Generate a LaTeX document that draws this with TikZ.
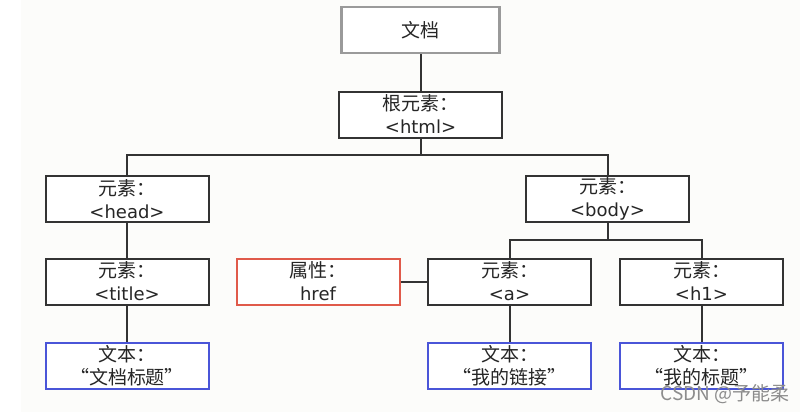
\documentclass[tikz,border=0pt]{standalone}
\usepackage{fontspec}
\setmainfont{DejaVu Sans}
\newfontfamily\cjk{Noto Sans CJK SC}
\definecolor{bgpaper}{HTML}{FCFCFA}
\definecolor{boxline}{HTML}{333333}
\definecolor{docline}{HTML}{9A9A9A}
\definecolor{attrline}{HTML}{E05A4A}
\definecolor{textline}{HTML}{4A55D8}
\newcommand{\zh}[1]{{\cjk\fontsize{9.5}{11}\selectfont #1}}
\tikzset{
  elem/.style={draw=boxline, line width=1pt, fill=white, minimum width=81.5pt,
    minimum height=23pt, align=center, inner sep=0pt, text=black!85,
    font=\fontsize{9}{11.5}\selectfont},
  docbox/.style={elem, draw=docline, line width=1.4pt, minimum width=79pt},
  attrbox/.style={elem, draw=attrline},
  textbox/.style={elem, draw=textline},
  link/.style={draw=boxline, line width=1pt}
}
\begin{document}
\begin{tikzpicture}[x=0.5pt, y=-0.5pt]
    \useasboundingbox (0,0) rectangle (800,412);
    \fill[white] (0,0) rectangle (800,412);
    \fill[bgpaper] (21,0) rectangle (800,412);

    % Document and root
    \node[docbox] (doc) at (420.5, 30) {\zh{文档}};
    \node[elem] (html) at (420.5, 114.5) {\zh{根元素：}\\<html>};

    % Second level
    \node[elem] (head) at (127, 199) {\zh{元素：}\\<head>};
    \node[elem] (body) at (607.5, 199) {\zh{元素：}\\<body>};

    % Third level
    \node[elem] (title) at (127, 281.5) {\zh{元素：}\\<title>};
    \node[attrbox] (href) at (318, 281.5) {\zh{属性：}\\href};
    \node[elem] (a) at (509.5, 281.5) {\zh{元素：}\\<a>};
    \node[elem] (h1) at (701.5, 281.5) {\zh{元素：}\\<h1>};

    % Text nodes
    \node[textbox] (ttitle) at (127, 365.5) {\zh{文本：}\\\zh{“文档标题”}};
    \node[textbox] (ta) at (509.5, 365.5) {\zh{文本：}\\\zh{“我的链接”}};
    \node[textbox] (th1) at (701.5, 365.5) {\zh{文本：}\\\zh{“我的标题”}};

    % Branch points
    \coordinate (j1) at (420.5, 155);
    \coordinate (j2) at (607.5, 240);

    % Edges between nodes
    \draw[link] (doc) -- (html);
    \draw[link] (html) -- (j1);
    \draw[link] (head.north) |- (j1) -| (body.north);
    \draw[link] (head) -- (title);
    \draw[link] (title) -- (ttitle);

    \draw[link] (body) -- (j2);
    \draw[link] (a.north) |- (j2) -| (h1.north);
    \draw[link] (href) -- (a);
    \draw[link] (a) -- (ta);
    \draw[link] (h1) -- (th1);

    % Watermark
    \node[text=black!45, font=\cjk\fontsize{9.5}{11}\selectfont, anchor=east, inner sep=0pt]
      (mark) at (790, 394) {CSDN @予能柔};
\end{tikzpicture}
\end{document}
